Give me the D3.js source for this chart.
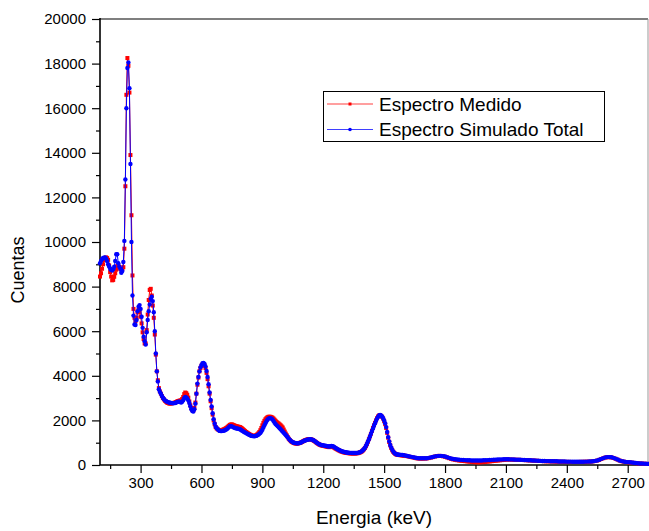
<!DOCTYPE html>
<html>
<head>
<meta charset="utf-8">
<script src="https://cdn.jsdelivr.net/npm/d3@7"></script>
<style>
  body { margin: 0; background: #fff; }
  svg { font-family: "Liberation Sans", Arial, sans-serif; }
</style>
</head>
<body>
<div id="vis-container"></div>
<script>
// canales: 100-1595 keV cada 5 keV, 1600-2800 keV cada 10 keV
const energiaBaja = d3.range(100, 1600, 5)
const energiaAlta = d3.range(1600, 2801, 10)

// Espectro Medido (rojo)
const medidoBaja = [8450, 8600, 8800, 9000, 9190, 9280, 9310, 9280, 9200, 8950,
    8650, 8450, 8280, 8300, 8440, 8600, 8760, 8920, 8950, 8870,
    8800, 8750, 8800, 8870, 9700, 12500, 16600, 18250, 17900, 16700,
    13900, 11200, 8500, 7000, 6600, 6450, 6600, 6850, 6950, 6850,
    6650, 6350, 5950, 5650, 5450, 5450, 6050, 6750, 7400, 7850,
    7900, 7600, 7150, 6600, 5850, 4950, 4200, 3800, 3450, 3300,
    3200, 3090, 3000, 2940, 2880, 2840, 2800, 2780, 2760, 2755,
    2760, 2770, 2780, 2790, 2800, 2825, 2850, 2870, 2880, 2890,
    2900, 2960, 3050, 3180, 3250, 3220, 3150, 3020, 2850, 2680,
    2550, 2470, 2450, 2560, 2800, 3200, 3600, 3920, 4200, 4350,
    4450, 4510, 4520, 4460, 4350, 4130, 3850, 3530, 3200, 2860,
    2550, 2260, 2000, 1830, 1700, 1640, 1600, 1570, 1550, 1550,
    1560, 1580, 1600, 1620, 1650, 1680, 1720, 1760, 1800, 1815,
    1820, 1800, 1780, 1760, 1740, 1730, 1720, 1710, 1700, 1670,
    1640, 1600, 1560, 1520, 1480, 1450, 1420, 1390, 1360, 1340,
    1320, 1305, 1300, 1315, 1340, 1375, 1420, 1480, 1560, 1660,
    1780, 1890, 1980, 2050, 2100, 2140, 2160, 2165, 2160, 2145,
    2120, 2080, 2030, 1980, 1930, 1890, 1860, 1820, 1780, 1730,
    1680, 1590, 1500, 1410, 1330, 1250, 1180, 1120, 1070, 1035,
    1010, 990, 970, 962, 960, 965, 980, 995, 1010, 1035,
    1060, 1085, 1110, 1125, 1140, 1150, 1160, 1160, 1150, 1130,
    1110, 1080, 1050, 1015, 980, 950, 920, 900, 880, 870,
    860, 850, 840, 830, 820, 810, 800, 810, 820, 815,
    800, 770, 740, 715, 690, 665, 640, 620, 600, 585,
    570, 560, 550, 542, 535, 530, 525, 522, 520, 520,
    520, 520, 520, 525, 530, 545, 560, 580, 610, 650,
    700, 760, 840, 930, 1040, 1160, 1280, 1400, 1530, 1660,
    1780, 1890, 2000, 2100, 2180, 2220, 2230, 2200, 2160, 2080,
    1970, 1830, 1660, 1440, 1220, 1030, 880, 760, 660, 590,
    540, 500, 470, 460, 450, 446, 440, 436, 430, 425]
const medidoAlta = [420, 400, 380, 360, 340, 320, 300, 290, 285, 285,
    290, 295, 310, 330, 355, 380, 400, 410, 405, 390,
    370, 340, 305, 275, 250, 230, 215, 200, 190, 180,
    170, 160, 150, 140, 130, 125, 120, 120, 125, 130,
    140, 150, 160, 170, 180, 190, 200, 210, 220, 230,
    240, 245, 245, 240, 235, 235, 230, 230, 225, 220,
    215, 210, 205, 200, 195, 190, 185, 180, 175, 170,
    165, 165, 160, 160, 155, 150, 150, 145, 145, 140,
    140, 140, 135, 135, 135, 135, 138, 140, 142, 145,
    148, 150, 155, 165, 180, 200, 230, 270, 305, 335,
    350, 350, 340, 315, 280, 240, 200, 170, 150, 135,
    125, 115, 105, 95, 85, 75, 68, 62, 58, 52,
    48]

// Espectro Simulado Total (azul)
const simuladoBaja = [9050, 9150, 9230, 9280, 9300, 9310, 9250, 9150, 9000, 8900,
    8800, 8750, 8720, 8780, 8890, 9150, 9450, 9450, 9050, 8900,
    8800, 8620, 8700, 9100, 10050, 12800, 16000, 17800, 18050, 16900,
    13500, 10000, 7600, 6700, 6300, 6280, 6500, 6900, 7100, 7170,
    7000, 6650, 6150, 5750, 5550, 5400, 5950, 6500, 6900, 7200,
    7450, 7550, 7350, 6850, 6000, 5000, 4200, 3750, 3400, 3280,
    3200, 3100, 3020, 2960, 2900, 2870, 2840, 2820, 2800, 2790,
    2780, 2775, 2770, 2775, 2780, 2800, 2820, 2835, 2840, 2820,
    2800, 2840, 2900, 3000, 3050, 3030, 2980, 2900, 2780, 2640,
    2500, 2420, 2400, 2500, 2750, 3200, 3650, 3950, 4200, 4380,
    4480, 4560, 4580, 4530, 4420, 4220, 3950, 3620, 3250, 2920,
    2620, 2320, 2050, 1860, 1720, 1650, 1600, 1560, 1530, 1520,
    1520, 1530, 1540, 1560, 1580, 1610, 1650, 1700, 1740, 1745,
    1730, 1700, 1680, 1660, 1650, 1640, 1630, 1615, 1600, 1570,
    1540, 1510, 1480, 1455, 1430, 1405, 1380, 1355, 1330, 1315,
    1300, 1295, 1290, 1295, 1310, 1330, 1360, 1400, 1440, 1500,
    1580, 1680, 1780, 1870, 1960, 2030, 2080, 2100, 2100, 2080,
    2040, 1970, 1900, 1840, 1790, 1745, 1700, 1650, 1600, 1550,
    1500, 1450, 1400, 1350, 1300, 1240, 1180, 1130, 1080, 1050,
    1020, 1000, 990, 980, 970, 970, 980, 990, 1010, 1035,
    1060, 1080, 1100, 1115, 1130, 1140, 1150, 1155, 1150, 1140,
    1120, 1090, 1060, 1025, 990, 960, 930, 915, 900, 890,
    880, 870, 860, 850, 840, 835, 830, 840, 850, 845,
    830, 800, 770, 740, 710, 685, 660, 640, 620, 605,
    590, 580, 570, 560, 555, 550, 545, 542, 540, 537,
    535, 535, 535, 540, 545, 555, 570, 590, 620, 660,
    710, 770, 850, 940, 1050, 1160, 1280, 1400, 1520, 1640,
    1760, 1870, 1980, 2080, 2160, 2220, 2240, 2220, 2180, 2100,
    2000, 1870, 1700, 1480, 1250, 1060, 900, 780, 680, 600,
    550, 510, 480, 470, 460, 458, 455, 452, 450, 445]
const simuladoAlta = [430, 415, 395, 375, 355, 335, 315, 305, 300, 300,
    300, 305, 320, 340, 360, 385, 400, 410, 410, 400,
    380, 350, 320, 290, 270, 255, 245, 235, 230, 225,
    220, 215, 210, 205, 200, 200, 200, 200, 205, 210,
    215, 220, 225, 230, 235, 240, 245, 250, 250, 255,
    255, 255, 250, 250, 245, 240, 240, 235, 230, 225,
    220, 215, 210, 205, 200, 195, 190, 185, 180, 180,
    175, 175, 170, 170, 165, 165, 160, 160, 155, 155,
    150, 150, 150, 148, 146, 145, 145, 146, 148, 150,
    152, 155, 160, 170, 185, 205, 235, 275, 310, 340,
    355, 355, 345, 320, 285, 245, 205, 175, 155, 140,
    130, 120, 110, 100, 90, 80, 70, 65, 60, 55,
    50]

const xTicks = d3.range(300, 2701, 300)
const xMinor = d3.range(150, 2800, 300)
const yTicks = d3.range(0, 20001, 2000)
const yMinor = d3.range(1000, 20000, 2000)
const seriesNames = ["Espectro Medido", "Espectro Simulado Total"]

const w = 649
const h = 531
const plotLeft = 100, plotRight = 648, plotTop = 19, plotBottom = 465

const energia = energiaBaja.concat(energiaAlta)
const medidoTodo = medidoBaja.concat(medidoAlta)
const simuladoTodo = simuladoBaja.concat(simuladoAlta)
const medido = energia.map((e, i) => [e, medidoTodo[i]])
const simulado = energia.map((e, i) => [e, simuladoTodo[i]])

const xScale = d3.scaleLinear().domain([100, 2800]).range([plotLeft, plotRight])
const yScale = d3.scaleLinear().domain([0, 20000]).range([plotBottom, plotTop])

const svg = d3.select("#vis-container")
    .append("svg")
    .attr("width", w)
    .attr("height", h)

// frame top/right
svg.append("line").attr("x1", plotLeft).attr("x2", plotRight).attr("y1", plotTop).attr("y2", plotTop)
    .attr("stroke", "#555").attr("stroke-width", 1.5)
svg.append("line").attr("x1", plotRight).attr("x2", plotRight).attr("y1", plotTop).attr("y2", plotBottom)
    .attr("stroke", "#999").attr("stroke-width", 1)

// x axis
const xAxis = svg.append("g")
    .attr("transform", "translate(0," + plotBottom + ")")
    .call(d3.axisBottom(xScale).tickValues(xTicks).tickSize(8).tickSizeOuter(0).tickPadding(4).tickFormat(d3.format("d")))
xAxis.select(".domain").remove()
xAxis.selectAll("text").style("font-size", "15px").attr("fill", "#000")
xAxis.selectAll("line").attr("stroke-width", 1.2)
svg.append("g")
    .attr("transform", "translate(0," + plotBottom + ")")
    .call(d3.axisBottom(xScale).tickValues(xMinor).tickSize(4).tickFormat(""))
    .call(g => g.select(".domain").remove())
    .selectAll("line").attr("stroke-width", 1.2)

// y axis
const yAxis = svg.append("g")
    .attr("transform", "translate(" + plotLeft + ",0)")
    .call(d3.axisLeft(yScale).tickValues(yTicks).tickSize(8).tickSizeOuter(0).tickPadding(6).tickFormat(d3.format("d")))
yAxis.select(".domain").remove()
yAxis.selectAll("text").style("font-size", "15px").attr("fill", "#000")
yAxis.selectAll("line").attr("stroke-width", 1.2)
svg.append("g")
    .attr("transform", "translate(" + plotLeft + ",0)")
    .call(d3.axisLeft(yScale).tickValues(yMinor).tickSize(4).tickFormat(""))
    .call(g => g.select(".domain").remove())
    .selectAll("line").attr("stroke-width", 1.2)

svg.append("line").attr("x1", plotLeft).attr("x2", plotRight).attr("y1", plotBottom).attr("y2", plotBottom)
    .attr("stroke", "#000").attr("stroke-width", 1.6)
svg.append("line").attr("x1", plotLeft).attr("x2", plotLeft).attr("y1", plotTop - 1).attr("y2", plotBottom)
    .attr("stroke", "#000").attr("stroke-width", 1.6)

// axis titles
svg.append("text")
    .attr("x", (plotLeft + plotRight) / 2)
    .attr("y", 524)
    .style("text-anchor", "middle")
    .style("font-size", "19px")
    .text("Energia (keV)")
svg.append("text")
    .attr("transform", "translate(24,270) rotate(-90)")
    .style("text-anchor", "middle")
    .style("font-size", "18px")
    .text("Cuentas")

// series
const line = d3.line().x(d => xScale(d[0])).y(d => yScale(d[1]))

svg.append("path").datum(medido)
    .attr("fill", "none").attr("stroke", "#ff0000").attr("stroke-width", 1)
    .attr("d", line)
svg.selectAll(".med").data(medido).enter().append("rect")
    .attr("class", "med")
    .attr("x", d => xScale(d[0]) - 2)
    .attr("y", d => yScale(d[1]) - 2)
    .attr("width", 4).attr("height", 4)
    .attr("fill", "#ff0000")

svg.append("path").datum(simulado)
    .attr("fill", "none").attr("stroke", "#0000ff").attr("stroke-width", 1)
    .attr("d", line)
svg.selectAll(".sim").data(simulado).enter().append("circle")
    .attr("class", "sim")
    .attr("cx", d => xScale(d[0]))
    .attr("cy", d => yScale(d[1]))
    .attr("r", 2.2)
    .attr("fill", "#0000ff")

// legend
const legend = svg.append("g")
legend.append("rect")
    .attr("x", 323.5).attr("y", 91.5).attr("width", 281).attr("height", 50)
    .attr("fill", "#fff").attr("stroke", "#000").attr("stroke-width", 1)
const colors = ["#ff0000", "#0000ff"]
seriesNames.forEach((name, i) => {
    const yy = 104 + i * 25.5
    legend.append("line").attr("x1", 327).attr("x2", 373).attr("y1", yy).attr("y2", yy)
        .attr("stroke", colors[i]).attr("stroke-width", 1).attr("opacity", 0.75)
    if (i == 0) {
        legend.append("rect").attr("x", 348.5).attr("y", yy - 1.5).attr("width", 3).attr("height", 3).attr("fill", colors[i])
    } else {
        legend.append("circle").attr("cx", 350).attr("cy", yy).attr("r", 1.8).attr("fill", colors[i])
    }
    legend.append("text")
        .attr("x", 379).attr("y", yy)
        .attr("dy", "0.35em")
        .style("font-size", "19px")
        .text(name)
})
</script>
</body>
</html>
